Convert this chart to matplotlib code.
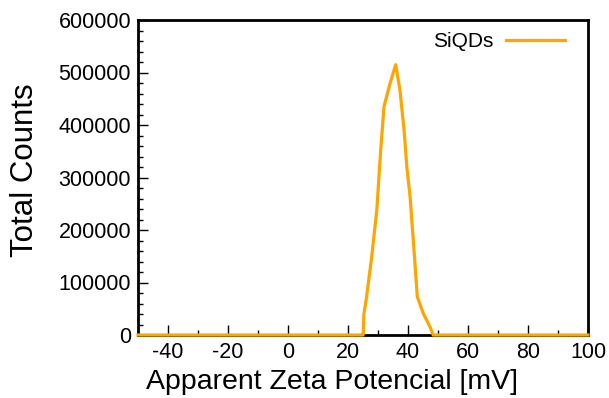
import numpy as np
import matplotlib
matplotlib.use("Agg")
import matplotlib.pyplot as plt
from matplotlib.ticker import MultipleLocator

# zeta potential distribution
zeta = [-50, 0, 25.0, 25.1, 25.3, 26.2, 27.9, 29.6, 30.9, 32.0, 34.0, 35.9,
        37.3, 38.7, 39.6, 40.7, 42.0, 43.1, 45.1, 47.3, 48.4, 70, 100]
counts = [0, 0, 0, 3000, 40000, 73000, 149000, 238000, 352000, 435000, 479000, 515000,
          467000, 390000, 321000, 263000, 162000, 73000, 41000, 16000, 0, 0, 0]

plt.rcParams['font.family'] = ['Liberation Sans', 'DejaVu Sans']
plt.rcParams['axes.unicode_minus'] = False

fig = plt.figure(figsize=(6.09, 3.98), dpi=100)
ax = fig.add_axes([138/609, 63/398, 450/609, 315/398])

ax.plot(zeta, counts, color="#ffa500", lw=2.3, label="SiQDs", zorder=3, clip_on=False)

ax.set_xlim(-50, 100)
ax.set_ylim(0, 600000)
ax.xaxis.set_major_locator(MultipleLocator(20))
ax.xaxis.set_minor_locator(MultipleLocator(10))
ax.yaxis.set_major_locator(MultipleLocator(100000))
ax.yaxis.set_minor_locator(MultipleLocator(20000))
ax.tick_params(which="both", direction="in", top=False, right=False, labelsize=15.5, width=1)
ax.tick_params(which="major", length=7, pad=5)
ax.tick_params(which="minor", length=3.5)
for s in ax.spines.values():
    s.set_linewidth(2)
    s.set_zorder(2)

ax.set_xlabel("Apparent Zeta Potencial [mV]", fontsize=20.5)
ax.set_ylabel("Total Counts", fontsize=22.5)
ax.xaxis.set_label_coords(0.431, -0.108)
ax.yaxis.set_label_coords(-0.218, 0.524)

leg = ax.legend(loc="upper right", frameon=False, fontsize=15, markerfirst=False,
                handlelength=2.8, handletextpad=0.6, bbox_to_anchor=(0.99, 1.02))

fig.savefig("out.png", dpi=100)
